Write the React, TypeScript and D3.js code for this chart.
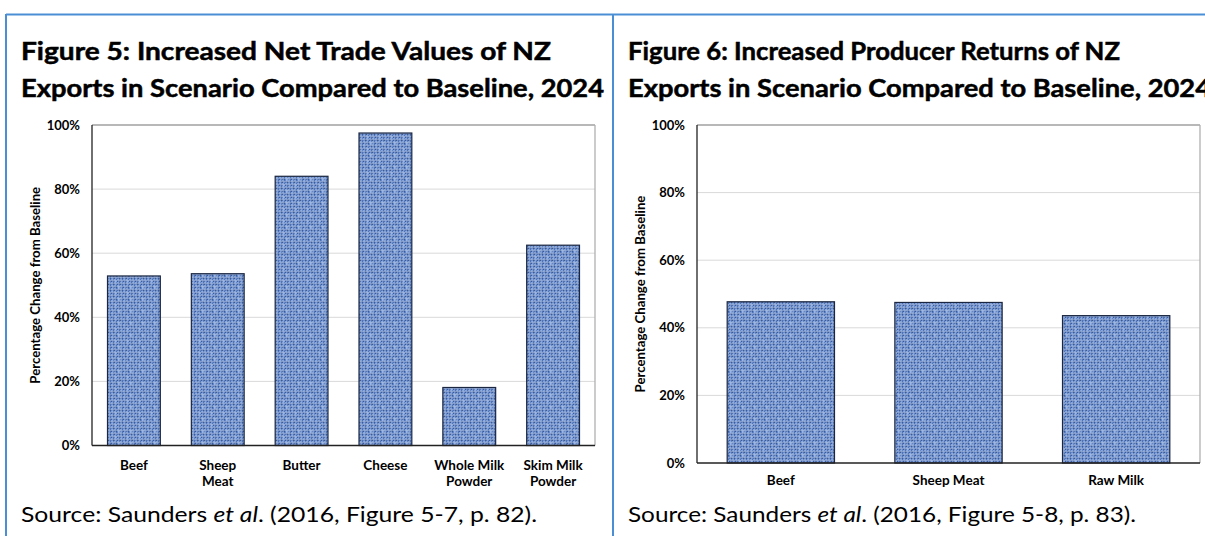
import React from "react";
import * as d3 from "d3";

const leftCategories = [["Beef"], ["Sheep", "Meat"], ["Butter"], ["Cheese"], ["Whole Milk", "Powder"], ["Skim Milk", "Powder"]];
const leftValues = [52.9, 53.6, 84.0, 97.5, 18.1, 62.5];
const rightCategories = [["Beef"], ["Sheep Meat"], ["Raw Milk"]];
const rightValues = [47.7, 47.5, 43.6];
const yTicks = [0, 20, 40, 60, 80, 100];

const leftTitle = ["Figure 5: Increased Net Trade Values of NZ", "Exports in Scenario Compared to Baseline, 2024"];
const rightTitle = ["Figure 6: Increased Producer Returns of NZ", "Exports in Scenario Compared to Baseline, 2024"];
const leftSource = ["Source: Saunders ", "et al", ". (2016, Figure 5-7, p. 82)."];
const rightSource = ["Source: Saunders ", "et al", ". (2016, Figure 5-8, p. 83)."];
const yAxisTitle = "Percentage Change from Baseline";

const FONT = "Lato, 'Open Sans', sans-serif";

// texture shades (style only)
const texRows = [
  "abacabca",
  "cdcbdcbd",
  "abacabac",
  "bcdbcadb",
  "acabacab",
  "dbcdbcdb",
  "abacabac",
  "cbdcbdca",
];
const shade: Record<string, string> = { a: "#84a4dc", b: "#4f73b6", c: "#6387c8", d: "#3a5b99" };

function Panel({ x0, cats, vals, title, titleW, source, sourceW, plot, pad, labelGap }: any) {
  const x = d3.scaleBand<number>().domain(d3.range(cats.length)).range([plot.left, plot.right]).paddingInner(pad).paddingOuter(pad / 2);
  const y = d3.scaleLinear().domain([0, 100]).range([plot.bottom, plot.top]);
  return (
    <g>
      {title.map((t: string, i: number) => (
        <text key={i} x={x0} y={60 + i * 37.3} fontFamily={FONT} fontWeight="bold" fontSize={25} fill="#000"
          stroke="#000" strokeWidth={0.5} textLength={titleW[i]} lengthAdjust="spacingAndGlyphs">{t}</text>
      ))}
      {yTicks.filter((t) => t > 0 && t < 100).map((t) => (
        <line key={t} x1={plot.left} x2={plot.right} y1={y(t)} y2={y(t)} stroke="#d9d9d9" strokeWidth={1} />
      ))}
      <line x1={plot.left} x2={plot.right} y1={y(100)} y2={y(100)} stroke="#a0a0a0" strokeWidth={1.3} />
      <line x1={plot.right} x2={plot.right} y1={y(100)} y2={y(0)} stroke="#b0b0b0" strokeWidth={1.3} />
      {vals.map((v: number, i: number) => (
        <rect key={i} x={x(i)} y={y(v)} width={x.bandwidth()} height={y(0) - y(v)} fill="url(#tex)" stroke="#1b2740" strokeWidth={1.2} />
      ))}
      <line x1={plot.left} x2={plot.left} y1={y(100)} y2={y(0)} stroke="#222" strokeWidth={1.3} />
      <line x1={plot.left} x2={plot.right} y1={y(0)} y2={y(0)} stroke="#222" strokeWidth={1.3} />
      {yTicks.map((t) => (
        <text key={t} x={plot.left - 12} y={y(t)} dy="0.35em" textAnchor="end" fontFamily={FONT} fontWeight="bold" fontSize={13} fill="#000">{t}%</text>
      ))}
      <text transform={`translate(${plot.axisX},${(plot.top + plot.bottom) / 2}) rotate(-90)`} textAnchor="middle" dy="0.35em"
        fontFamily={FONT} fontWeight="bold" fontSize={13.2} fill="#000">{yAxisTitle}</text>
      {cats.map((c: string[], i: number) => (
        <text key={i} textAnchor="middle" fontFamily={FONT} fontWeight="bold" fontSize={13.5} fill="#000">
          {c.map((line, j) => (
            <tspan key={j} x={(x(i) as number) + x.bandwidth() / 2} y={y(0) + labelGap + j * 16}>{line}</tspan>
          ))}
        </text>
      ))}
      <text x={x0} y={522} fontFamily={FONT} fontSize={21.5} fill="#000" textLength={sourceW} lengthAdjust="spacingAndGlyphs">
        <tspan>{source[0]}</tspan><tspan fontStyle="italic">{source[1]}</tspan><tspan>{source[2]}</tspan>
      </text>
    </g>
  );
}

export default function App() {
  const cells: any[] = [];
  texRows.forEach((row, r) => {
    row.split("").forEach((ch, c) => {
      cells.push(<rect key={`${r}-${c}`} x={c * 1.5} y={r * 1.5} width={1.5} height={1.5} fill={shade[ch]} />);
    });
  });
  return (
    <svg width={1205} height={536} style={{ position: "absolute", left: 0, top: 0, background: "#fff" }}>
      <defs>
        <pattern id="tex" patternUnits="userSpaceOnUse" width={12} height={12}>
          {cells}
        </pattern>
      </defs>
      <rect x={0} y={0} width={1205} height={536} fill="#fff" />
      <line x1={6} x2={1205} y1={14.5} y2={14.5} stroke="#4a8fd6" strokeWidth={2} />
      <line x1={6} x2={6} y1={14} y2={536} stroke="#4a8fd6" strokeWidth={2} />
      <line x1={613} x2={613} y1={14} y2={536} stroke="#4a8fd6" strokeWidth={2} />
      <Panel x0={21} cats={leftCategories} vals={leftValues} title={leftTitle} titleW={[530, 583]} source={leftSource} sourceW={516}
        plot={{ left: 92, right: 595, top: 125, bottom: 445.5, axisX: 35 }} pad={0.37} labelGap={24} />
      <Panel x0={628} cats={rightCategories} vals={rightValues} title={rightTitle} titleW={[492, 583]} source={rightSource} sourceW={508}
        plot={{ left: 697, right: 1200, top: 125, bottom: 463, axisX: 640 }} pad={0.36} labelGap={22} />
    </svg>
  );
}
